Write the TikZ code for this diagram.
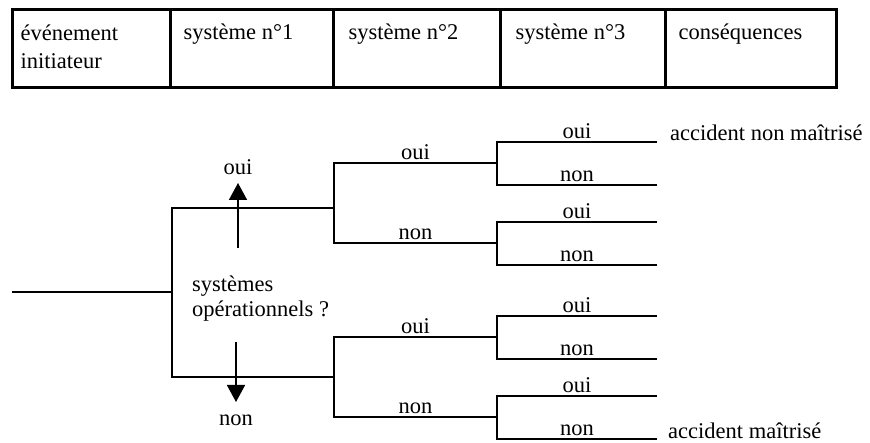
\documentclass[tikz,border=0pt]{standalone}
\usepackage{fontspec}
\setmainfont{Liberation Serif}
\usetikzlibrary{arrows.meta,positioning}
\tikzset{
  cell/.style={draw, line width=3pt, minimum height=78pt, inner sep=0pt},
  head/.style={anchor=base west, align=left, inner sep=0pt,
               font=\fontsize{22.5}{28}\selectfont},
  lbl/.style={font=\fontsize{22.5}{25}\selectfont, inner sep=2pt},
  br/.style={line width=1.6pt},
  arr/.style={line width=1.6pt, -{Triangle[length=17pt,width=18pt]}},
}
\begin{document}
\begin{tikzpicture}[x=1pt, y=-1pt]
  \useasboundingbox (0,0) rectangle (870,443);
  % Header
  \node[cell, minimum width=158pt] (h1) at (91,49) {};
  \node[cell, minimum width=163pt] (h2) at (251.5,49) {};
  \node[cell, minimum width=167pt] (h3) at (416.5,49) {};
  \node[cell, minimum width=165pt] (h4) at (582.5,49) {};
  \node[cell, minimum width=171pt] (h5) at (750.5,49) {};
  \node[head] (t1) at ([xshift=10pt,yshift=-60pt]h1.north west) {événement\\initiateur};
  \node[head] (t2) at ([xshift=15pt,yshift=-31pt]h2.north west) {système n°1};
  \node[head] (t3) at ([xshift=17pt,yshift=-31pt]h3.north west) {système n°2};
  \node[head] (t4) at ([xshift=17pt,yshift=-31pt]h4.north west) {système n°3};
  \node[head] (t5) at ([xshift=15pt,yshift=-31pt]h5.north west) {conséquences};

  % Initiating event and systems n°1
  \coordinate (e0) at (12,292);
  \coordinate (e1) at (172,292);
  \coordinate (p1) at (172,208);
  \coordinate (q1) at (172,377);
  \coordinate (p2) at (334,208);
  \coordinate (q2) at (334,377);
  \draw[br] (e0) -- (e1);
  \draw[br] (p2) -- (p1) -- (q1) -- (q2);

  \node[lbl, align=left, anchor=north west] (qs) at (190,274) {systèmes\\opérationnels ?};
  \coordinate (a0) at (238,248);
  \coordinate (a1) at (238,183);
  \coordinate (b0) at (236,342);
  \coordinate (b1) at (236,402);
  \draw[arr] (a0) -- (a1);
  \draw[arr] (b0) -- (b1);
  \node[lbl, above=6pt of a1] (oui0) {oui};
  \node[lbl, below=11pt of b1] (non0) {non};

  % Systems n°3 forks
  \coordinate (f1) at (497,163);
  \coordinate (f2) at (497,243);
  \coordinate (f3) at (497,337);
  \coordinate (f4) at (497,417);
  \foreach \i in {1,...,4} {
    \coordinate (f\i-o) at ([yshift=21pt]f\i);
    \coordinate (f\i-n) at ([yshift=-22pt]f\i);
    \coordinate (r\i-o) at ([xshift=160pt,yshift=21pt]f\i);
    \coordinate (r\i-n) at ([xshift=160pt,yshift=-22pt]f\i);
    \draw[br] (r\i-o) -- node[lbl, above]{oui} (f\i-o) -- (f\i-n) -- node[lbl, above]{non} (r\i-n);
  }

  % Systems n°2
  \coordinate (p2-o) at (334,163);
  \coordinate (p2-n) at (334,243);
  \coordinate (q2-o) at (334,337);
  \coordinate (q2-n) at (334,417);
  \draw[br] (f1) -- node[lbl, above]{oui} (p2-o) -- (p2-n) -- node[lbl, above]{non} (f2);
  \draw[br] (f3) -- node[lbl, above]{oui} (q2-o) -- (q2-n) -- node[lbl, above]{non} (f4);

  % Consequences
  \node[lbl, anchor=base west] (c1) at ([xshift=11pt,yshift=1pt]r1-o) {accident non maîtrisé};
  \node[lbl, anchor=base west] (c2) at ([xshift=9pt,yshift=1pt]r4-n) {accident maîtrisé};
\end{tikzpicture}
\end{document}
